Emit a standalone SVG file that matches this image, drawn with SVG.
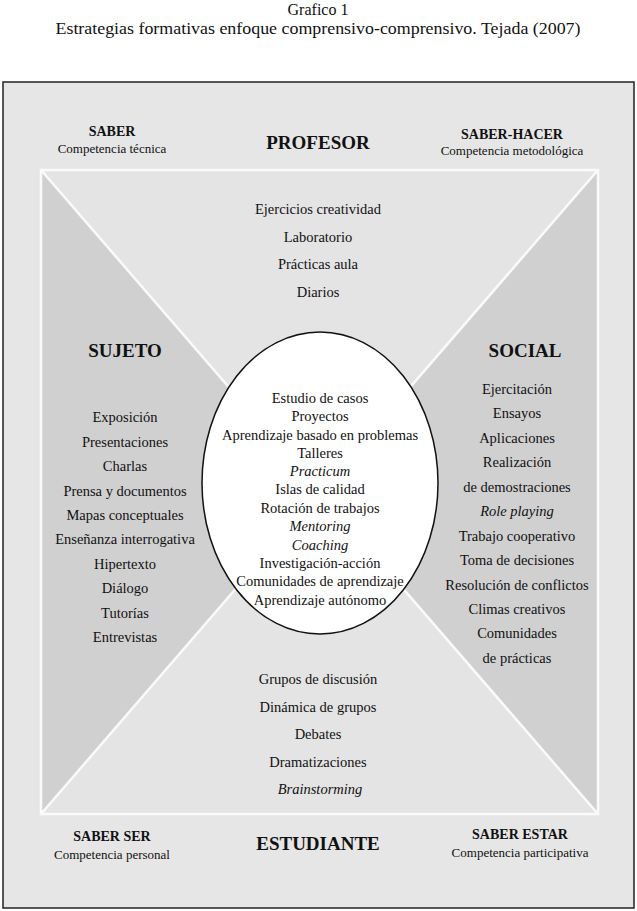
<svg xmlns="http://www.w3.org/2000/svg" width="637" height="911" viewBox="0 0 637 911">
<style>
text{font-family:"Liberation Serif","Times New Roman",serif;fill:#111;text-anchor:middle}
.t{font-size:16px}
.b{font-size:14px;font-weight:bold}
.h{font-size:19px;font-weight:bold}
.s{font-size:13px}
.l{font-size:14.5px}
.i{font-style:italic}
.side{fill:#d0d0d0}
.tb{fill:#e4e4e4}
.wl{stroke:#fafafa;stroke-width:2.5;fill:none}
</style>
<rect width="637" height="911" fill="#fff"/>
<g id="title">
<text class="t" x="318" y="15">Grafico 1</text>
<text class="t" x="318" y="34" textLength="525" lengthAdjust="spacingAndGlyphs">Estrategias formativas enfoque comprensivo-comprensivo. Tejada (2007)</text>
</g>
<rect x="3" y="82" width="631" height="826" fill="#e6e6e6" stroke="#222" stroke-width="1.5"/>
<g id="quadrants">
<polygon class="tb" points="41,170 598,170 320,492"/>
<polygon class="tb" points="41,814 598,814 320,492"/>
<polygon class="side" points="41,170 41,814 320,492"/>
<polygon class="side" points="598,170 598,814 320,492"/>
</g>
<g id="connectors">
<rect class="wl" x="41" y="170" width="557" height="644"/>
<line class="wl" x1="41" y1="170" x2="598" y2="814"/>
<line class="wl" x1="598" y1="170" x2="41" y2="814"/>
</g>
<g id="saber">
<text class="b" x="112" y="136">SABER</text>
<text class="s" x="112" y="153">Competencia técnica</text>
</g>
<g id="saber-hacer">
<text class="b" x="512" y="139">SABER-HACER</text>
<text class="s" x="512" y="155">Competencia metodológica</text>
</g>
<g id="saber-ser">
<text class="b" x="112" y="841">SABER SER</text>
<text class="s" x="112" y="859">Competencia personal</text>
</g>
<g id="saber-estar">
<text class="b" x="520" y="839">SABER ESTAR</text>
<text class="s" x="520" y="857">Competencia participativa</text>
</g>
<g id="profesor">
<text class="h" x="318" y="149">PROFESOR</text>
<text class="l" x="318" y="214">Ejercicios creatividad</text>
<text class="l" x="318" y="242">Laboratorio</text>
<text class="l" x="318" y="269">Prácticas aula</text>
<text class="l" x="318" y="297">Diarios</text>
</g>
<g id="estudiante">
<text class="h" x="318" y="850">ESTUDIANTE</text>
<text class="l" x="318" y="684">Grupos de discusión</text>
<text class="l" x="318" y="712">Dinámica de grupos</text>
<text class="l" x="318" y="739">Debates</text>
<text class="l" x="318" y="767">Dramatizaciones</text>
<text class="l i" x="320" y="794">Brainstorming</text>
</g>
<g id="sujeto">
<text class="h" x="125" y="357">SUJETO</text>
<text class="l" x="125" y="422">Exposición</text>
<text class="l" x="125" y="447">Presentaciones</text>
<text class="l" x="125" y="471">Charlas</text>
<text class="l" x="125" y="496">Prensa y documentos</text>
<text class="l" x="125" y="520">Mapas conceptuales</text>
<text class="l" x="125" y="544">Enseñanza interrogativa</text>
<text class="l" x="125" y="569">Hipertexto</text>
<text class="l" x="125" y="593">Diálogo</text>
<text class="l" x="125" y="618">Tutorías</text>
<text class="l" x="125" y="642">Entrevistas</text>
</g>
<g id="social">
<text class="h" x="525" y="357">SOCIAL</text>
<text class="l" x="517" y="394">Ejercitación</text>
<text class="l" x="517" y="418">Ensayos</text>
<text class="l" x="517" y="443">Aplicaciones</text>
<text class="l" x="517" y="467">Realización</text>
<text class="l" x="517" y="492">de demostraciones</text>
<text class="l i" x="517" y="516">Role playing</text>
<text class="l" x="517" y="541">Trabajo cooperativo</text>
<text class="l" x="517" y="565">Toma de decisiones</text>
<text class="l" x="517" y="590">Resolución de conflictos</text>
<text class="l" x="517" y="614">Climas creativos</text>
<text class="l" x="517" y="638">Comunidades</text>
<text class="l" x="517" y="663">de prácticas</text>
</g>
<g id="centro">
<ellipse cx="320" cy="483" rx="118" ry="151" fill="#fff" stroke="#111" stroke-width="1.5"/>
<text class="l" x="320" y="403">Estudio de casos</text>
<text class="l" x="320" y="421">Proyectos</text>
<text class="l" x="320" y="440">Aprendizaje basado en problemas</text>
<text class="l" x="320" y="458">Talleres</text>
<text class="l i" x="320" y="476">Practicum</text>
<text class="l" x="320" y="494">Islas de calidad</text>
<text class="l" x="320" y="513">Rotación de trabajos</text>
<text class="l i" x="320" y="531">Mentoring</text>
<text class="l i" x="320" y="550">Coaching</text>
<text class="l" x="320" y="568">Investigación-acción</text>
<text class="l" x="320" y="586">Comunidades de aprendizaje</text>
<text class="l" x="320" y="605">Aprendizaje autónomo</text>
</g>
</svg>
